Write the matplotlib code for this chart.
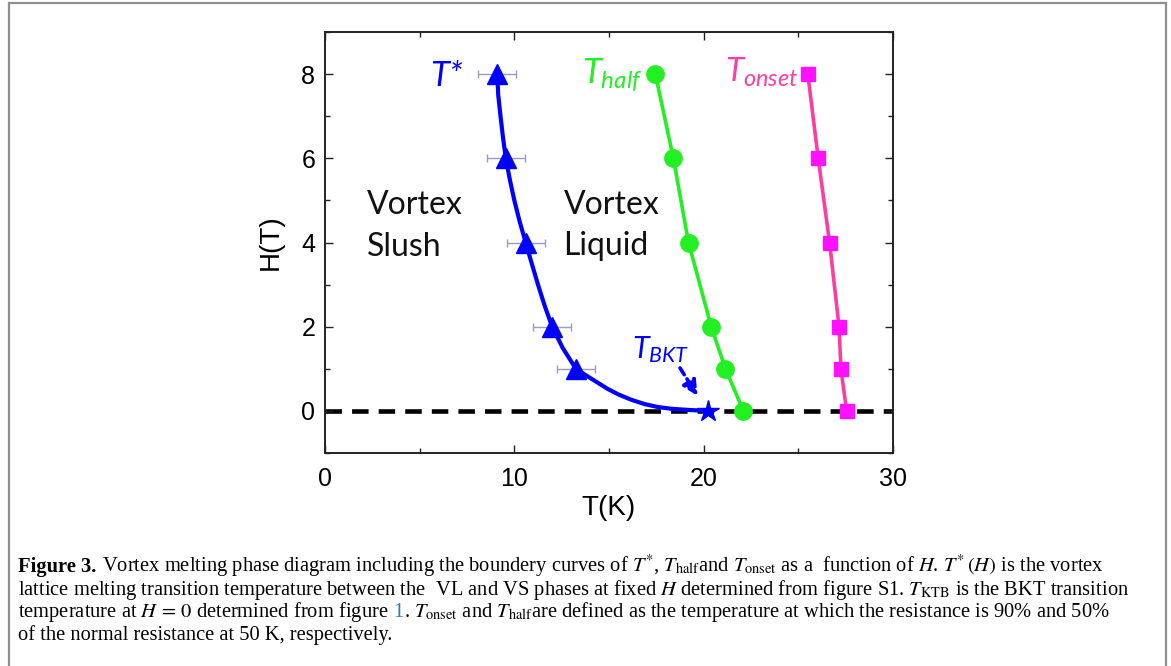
import matplotlib
matplotlib.use('Agg')
import matplotlib.pyplot as plt
from matplotlib.patches import Rectangle
from matplotlib.ticker import MultipleLocator

plt.rcParams['mathtext.fontset'] = 'custom'
plt.rcParams['mathtext.it'] = 'Lato:italic'
plt.rcParams['mathtext.rm'] = 'Lato'
plt.rcParams['mathtext.bf'] = 'Lato:bold'

# ---------------- data ----------------
tstar_H = [8, 6, 4, 2, 1]
tstar_T = [9.1, 9.55, 10.6, 12.0, 13.25]
tstar_err = [1.0, 1.0, 1.0, 1.0, 1.0]
tbkt_T = [20.25]
tbkt_H = [0.0]
# traced points of the smooth T*(H) boundary drawn through the triangles
curve_T = [9.1, 9.15, 9.27, 9.4, 9.55, 9.76, 10.0, 10.28, 10.6, 10.92, 11.25,
           11.6, 12.0, 12.55, 13.25, 13.8, 14.3, 14.9, 15.5, 16.2, 16.9,
           17.6, 18.3, 19.3, 20.25]
curve_H = [8.0, 7.5, 7.0, 6.5, 6.0, 5.5, 5.0, 4.5, 4.0, 3.5, 3.0,
           2.5, 2.0, 1.5, 1.0, 0.84, 0.70, 0.53, 0.39, 0.26, 0.16,
           0.09, 0.05, 0.02, 0.0]
half_H = [8, 6, 4, 2, 1, 0]
half_T = [17.45, 18.4, 19.2, 20.4, 21.15, 22.1]
onset_H = [8, 6, 4, 2, 1, 0]
onset_T = [25.5, 26.05, 26.65, 27.15, 27.25, 27.55]
xticks = [0, 10, 20, 30]
yticks = [0, 2, 4, 6, 8]

BLUE = '#0000ff'
GREEN = '#22f022'
PINK = '#ff3d9e'
MAGENTA = '#ff10ff'
ERRC = '#9a9ac4'

W, HH = 1171, 666
fig = plt.figure(figsize=(W / 100, HH / 100), dpi=100)
fig.patch.set_facecolor('white')

# outer frame
fig.add_artist(Rectangle((9 / W, -0.2), (1166 - 9) / W, 1.2 - 3 / HH,
                         transform=fig.transFigure, fill=False,
                         ec='#8f8f8f', lw=1.6))

ax = fig.add_axes([325 / W, 1 - 453 / HH, (893 - 325) / W, (453 - 32) / HH])
ax.set_xlim(0, 30)
ax.set_ylim(-1, 9)

ax.axhline(0, color='black', lw=3.3, dashes=(3.6, 2.2), zorder=1)

ax.errorbar(tstar_T, tstar_H, xerr=tstar_err, fmt='none', ecolor=ERRC,
            elinewidth=1.0, capsize=3, capthick=1.0, zorder=2)
ax.plot(curve_T, curve_H, color=BLUE, lw=3, zorder=3, solid_capstyle='round',
        solid_joinstyle='round')
ax.plot(tstar_T, tstar_H, '^', color=BLUE, ms=14, zorder=4)
ax.plot(tbkt_T, tbkt_H, '*', color=BLUE, ms=16, zorder=4)

ax.plot(half_T, half_H, '-', color=GREEN, lw=2.6, zorder=3)
ax.plot(half_T, half_H, 'o', color=GREEN, ms=12.5, zorder=4)

ax.plot(onset_T, onset_H, '-', color=PINK, lw=2.6, zorder=3)
ax.plot(onset_T, onset_H, 's', color=MAGENTA, ms=10, zorder=4)

# labels inside the plot
ax.text(7.3, 7.95, 'T*', color=BLUE, fontsize=25, family='Lato',
        style='italic', ha='right', va='center')
ax.text(13.6, 7.78, r'$T_{half}$', color=GREEN, fontsize=25,
        ha='left', va='baseline')
ax.text(21.15, 7.82, r'$T_{onset}$', color=PINK, fontsize=24,
        ha='left', va='baseline')
ax.text(16.2, 1.25, r'$T_{BKT}$', color=BLUE, fontsize=22,
        ha='left', va='baseline')
ax.annotate('', xy=(19.68, 0.36), xytext=(18.75, 1.02),
            arrowprops=dict(arrowstyle='-|>', color=BLUE, lw=2.6,
                            linestyle=(0, (2.2, 1.4)), mutation_scale=22,
                            shrinkA=0, shrinkB=0))

for txt, x, y in [('Vortex', 2.2, 4.68), ('Slush', 2.2, 3.69),
                  ('Vortex', 12.6, 4.68), ('Liquid', 12.6, 3.70)]:
    ax.text(x, y, txt, fontsize=23, family='Lato', color='#111111',
            ha='left', va='baseline')

# axes styling
ax.set_xticks(xticks)
ax.set_yticks(yticks)
ax.xaxis.set_minor_locator(MultipleLocator(5))
ax.yaxis.set_minor_locator(MultipleLocator(1))
ax.tick_params(which='both', direction='in', top=True, right=True,
               width=1.0, color='#222222')
ax.tick_params(which='major', length=6)
ax.tick_params(which='minor', length=3.5)
ax.tick_params(axis='x', which='major', pad=10, labelsize=18)
ax.tick_params(axis='y', which='major', pad=7, labelsize=18)
for lab in ax.get_xticklabels() + ax.get_yticklabels():
    lab.set_family('Liberation Sans')
for sp in ax.spines.values():
    sp.set_linewidth(1.4)
    sp.set_color('#222222')

ax.set_xlabel('T(K)', fontsize=20, family='Liberation Sans')
ax.set_ylabel('H(T)', fontsize=20, family='Liberation Sans')
ax.xaxis.set_label_coords(0.5, -0.1)
ax.yaxis.set_label_coords(-0.072, 0.5)

# ---------------- caption ----------------
renderer = fig.canvas.get_renderer()
CAP = 'Liberation Serif'


def space_w(fs):
    a = fig.text(0, 0, 'a a', fontsize=fs, family=CAP)
    b = fig.text(0, 0, 'aa', fontsize=fs, family=CAP)
    w = a.get_window_extent(renderer).width - b.get_window_extent(renderer).width
    a.remove()
    b.remove()
    return w


def cap_line(pieces, x0, ybase, fs):
    sp = space_w(fs)
    x = x0
    made = []
    for s, kw, gap in pieces:
        if gap:
            x += sp
        t = fig.text(x / W, 1 - ybase / HH, s, fontsize=fs, family=CAP,
                     va='baseline', ha='left', math_fontfamily='stix', **kw)
        x = t.get_window_extent(renderer).x1
        made.append(t)
    return made, x


line1 = [('Figure 3.', dict(weight='bold'), False),
         (r'Vortex melting phase diagram including the boundery curves of $T^{*}$, '
          r'$T_{\mathrm{half}}$and $T_{\mathrm{onset}}$ as a  function of $H$. '
          r'$T^{*}\,(H)$ is the vortex', {}, True)]
line2 = [(r'lattice melting transition temperature between the  VL and VS phases at '
          r'fixed $H$ determined from figure S1. $T_{\mathrm{KTB}}$ is the BKT transition',
          {}, False)]
line3 = [(r'temperature at $H\,=\,0$ determined from figure', {}, False),
         ('1', dict(color='#2b7bbd'), True),
         (r'. $T_{\mathrm{onset}}$ and $T_{\mathrm{half}}$are defined as the temperature '
          r'at which the resistance is 90% and 50%', {}, False)]
line4 = [('of the normal resistance at 50 K, respectively.', {}, False)]

X0 = 18
tmp, xend = cap_line(line2, X0, 595, 14)
fs = 14 * (1132 - X0) / (xend - X0)
for t in tmp:
    t.remove()

for pieces, yb in [(line1, 572), (line2, 595), (line3, 617), (line4, 640)]:
    cap_line(pieces, X0, yb, fs)

fig.savefig('out.png', dpi=100, facecolor='white')
